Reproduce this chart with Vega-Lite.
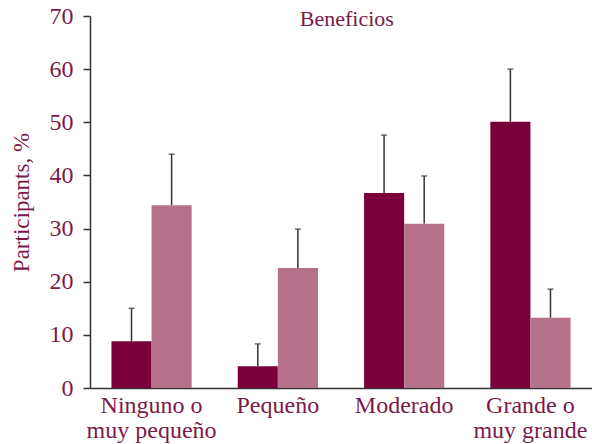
{
  "$schema": "https://vega.github.io/schema/vega-lite/v6.json",
  "autosize": {"type": "none"},
  "padding": {"left": 90, "top": 16, "right": 0, "bottom": 56},
  "width": 502,
  "height": 372,
  "data": {
    "values": [
      {"cat": "Ninguno o muy pequeño", "grupo": "A", "value": 8.8, "upper": 15.0},
      {"cat": "Ninguno o muy pequeño", "grupo": "B", "value": 34.4, "upper": 44.0},
      {"cat": "Pequeño", "grupo": "A", "value": 4.1, "upper": 8.3},
      {"cat": "Pequeño", "grupo": "B", "value": 22.6, "upper": 29.9},
      {"cat": "Moderado", "grupo": "A", "value": 36.7, "upper": 47.6},
      {"cat": "Moderado", "grupo": "B", "value": 30.9, "upper": 39.9},
      {"cat": "Grande o muy grande", "grupo": "A", "value": 50.1, "upper": 60.0},
      {"cat": "Grande o muy grande", "grupo": "B", "value": 13.2, "upper": 18.6}
    ]
  },
  "encoding": {
    "x": {
      "field": "cat",
      "type": "nominal",
      "sort": null,
      "scale": {"paddingInner": 0.365, "paddingOuter": 0.17},
      "axis": {
        "title": null,
        "labelAngle": 0,
        "ticks": false,
        "labelExpr": "datum.value == 'Ninguno o muy pequeño' ? ['Ninguno o','muy pequeño'] : datum.value == 'Grande o muy grande' ? ['Grande o','muy grande'] : datum.value",
        "labelLineHeight": 25,
        "labelPadding": 5,
        "domainColor": "#333333",
        "domainWidth": 1.5
      }
    }
  },
  "layer": [
    {
      "mark": {"type": "rule", "color": "#333333", "strokeWidth": 1.5},
      "encoding": {
        "xOffset": {"field": "grupo", "type": "nominal", "scale": {"paddingInner": 0, "paddingOuter": 0}},
        "y": {"field": "value", "type": "quantitative"},
        "y2": {"field": "upper"}
      }
    },
    {
      "mark": {"type": "tick", "color": "#333333", "thickness": 1.5, "size": 6},
      "encoding": {
        "xOffset": {"field": "grupo", "type": "nominal"},
        "y": {"field": "upper", "type": "quantitative"}
      }
    },
    {
      "mark": {"type": "bar"},
      "encoding": {
        "xOffset": {"field": "grupo", "type": "nominal"},
        "y": {
          "field": "value",
          "type": "quantitative",
          "scale": {"domain": [0, 70], "nice": false},
          "axis": {
            "title": "Participants, %",
            "values": [0, 10, 20, 30, 40, 50, 60, 70],
            "grid": false,
            "tickSize": 7,
            "tickWidth": 1.5,
            "tickColor": "#333333",
            "domainColor": "#333333",
            "domainWidth": 1.5,
            "labelPadding": 10,
            "titlePadding": 16
          }
        },
        "color": {
          "field": "grupo",
          "type": "nominal",
          "scale": {"domain": ["A", "B"], "range": ["#7A0039", "#B5728A"]},
          "legend": null
        }
      }
    },
    {
      "data": {"values": [{"titulo": "Beneficios"}]},
      "mark": {
        "type": "text",
        "font": "Liberation Serif",
        "fontSize": 22,
        "color": "#7B1A4A",
        "align": "center",
        "baseline": "alphabetic"
      },
      "encoding": {
        "x": {"datum": "Pequeño", "bandPosition": 1.36},
        "y": {"datum": 68.1, "type": "quantitative"},
        "text": {"field": "titulo"}
      }
    }
  ],
  "config": {
    "view": {"stroke": null},
    "bar": {"discreteBandSize": {"band": 1}},
    "axis": {
      "labelFont": "Liberation Serif",
      "labelFontSize": 24,
      "labelColor": "#7B1A4A",
      "titleFont": "Liberation Serif",
      "titleFontSize": 23,
      "titleFontWeight": "normal",
      "titleColor": "#7B1A4A"
    }
  }
}
